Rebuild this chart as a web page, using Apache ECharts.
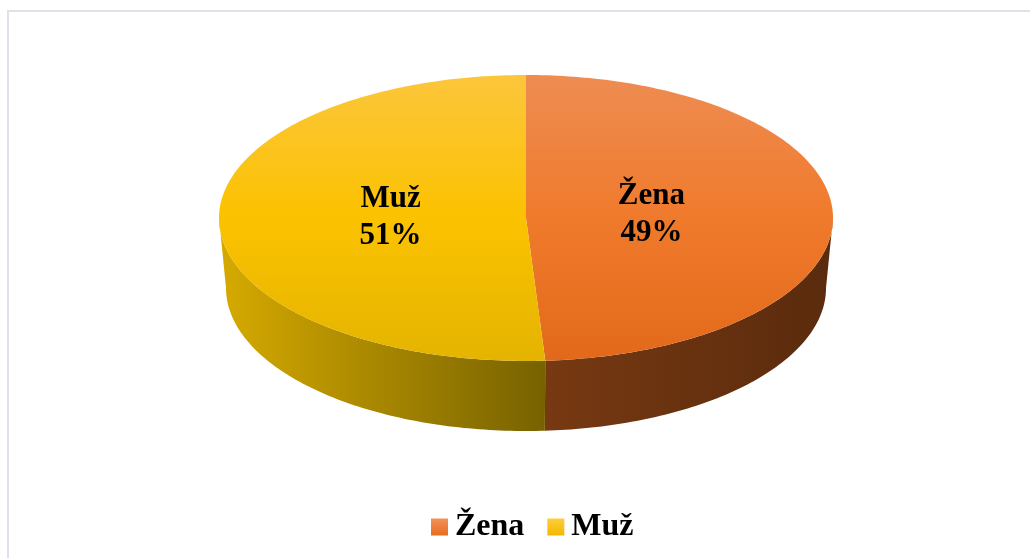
<!DOCTYPE html>
<html>
<head>
<meta charset="utf-8">
<script src="https://cdn.jsdelivr.net/npm/echarts@6/dist/echarts.min.js"></script>
<style>
html, body { margin: 0; padding: 0; background: #fff; }
#chart { width: 1030px; height: 558px; }
</style>
</head>
<body>
<div id="chart"></div>
<script>
const categories = ['Žena', 'Muž'];
const shares = [49, 51];

// top face colours / side colours per slice
const topColors = [['#EE8C52', '#F07A2C', '#E2691A'], ['#FBC63C', '#FBC200', '#E4B400']];
const sideColors = [['#773912', '#5A2B0D'], ['#D6AA00', '#776200']];
const legendColors = [['#F2915A', '#E86C1E'], ['#FFCD3A', '#F2B800']];

// geometry of the drawn disc
const cx = 526, cy = 218, rx = 307, ry = 143;
const bcx = 526, bcy = 288, brx = 300, bry = 143;

const total = shares.reduce((a, b) => a + b, 0);

function pt(x0, y0, ax, ay, deg) {
    const r = deg * Math.PI / 180;
    return [x0 + ax * Math.sin(r), y0 - ay * Math.cos(r)];
}

function grad(x, y, x2, y2, stops) {
    return new echarts.graphic.LinearGradient(x, y, x2, y2, stops.map((c, i) => ({
        offset: i / (stops.length - 1),
        color: c
    })));
}

function renderItem(params, api) {
    const i = params.dataIndex;
    let before = 0;
    for (let k = 0; k < i; k++) before += shares[k];
    const a1 = before / total * 360;
    const a2 = (before + api.value(0)) / total * 360;
    const children = [];

    // front wall (visible between 90 and 270 deg)
    const s1 = Math.max(a1, 90), s2 = Math.min(a2, 270);
    if (s2 > s1) {
        const pts = [];
        for (let d = s1; d <= s2; d += 1) pts.push(pt(cx, cy, rx, ry, d));
        pts.push(pt(cx, cy, rx, ry, s2));
        pts.push(pt(bcx, bcy, brx, bry, s2));
        for (let d = s2; d >= s1; d -= 1) pts.push(pt(bcx, bcy, brx, bry, d));
        pts.push(pt(bcx, bcy, brx, bry, s1));
        const xs = pts.map(p => p[0]);
        const minX = Math.min(...xs), maxX = Math.max(...xs);
        const c = sideColors[i];
        children.push({
            type: 'polygon',
            shape: { points: pts },
            style: {
                fill: new echarts.graphic.LinearGradient(minX, 0, maxX, 0, [
                    { offset: 0, color: c[0] },
                    { offset: 1, color: c[1] }
                ], true)
            }
        });
    }

    // top face
    const top = [[cx, cy]];
    for (let d = a1; d <= a2; d += 1) top.push(pt(cx, cy, rx, ry, d));
    top.push(pt(cx, cy, rx, ry, a2));
    const tc = topColors[i];
    children.push({
        type: 'polygon',
        shape: { points: top },
        style: {
            fill: new echarts.graphic.LinearGradient(0, cy - ry, 0, cy + ry, [
                { offset: 0, color: tc[0] },
                { offset: 0.5, color: tc[1] },
                { offset: 1, color: tc[2] }
            ], true)
        }
    });

    // label
    const mid = (a1 + a2) / 2;
    const lp = pt(cx - 5, cy, rx * 0.425, ry * 0.425, mid);
    children.push({
        type: 'text',
        x: lp[0],
        y: lp[1] - 2,
        style: {
            text: categories[i] + '\n' + api.value(0) + '%',
            fontFamily: 'Liberation Serif',
            fontWeight: 'bold',
            fontSize: 31,
            lineHeight: 37,
            fill: '#000',
            align: 'center',
            verticalAlign: 'middle'
        }
    });

    return { type: 'group', children: children };
}

const chart = echarts.init(document.getElementById('chart'));
chart.setOption({
    animation: false,
    backgroundColor: '#fff',
    graphic: [{
        type: 'rect',
        shape: { x: 8, y: 11, width: 1200, height: 1000 },
        style: { fill: 'none', stroke: '#DEE2EA', lineWidth: 2 },
        silent: true
    }],
    legend: {
        left: 426,
        top: 506,
        icon: 'rect',
        itemWidth: 17,
        itemHeight: 17,
        itemGap: 23,
        data: categories,
        textStyle: {
            fontFamily: 'Liberation Serif',
            fontWeight: 'bold',
            fontSize: 32,
            color: '#000',
            padding: [0, 0, 0, 2]
        }
    },
    series: [{
        type: 'custom',
        coordinateSystem: 'none',
        renderItem: renderItem,
        data: shares.map((v, i) => ({ name: categories[i], value: [v] }))
    }, {
        // carries the legend entries
        type: 'pie',
        radius: [0, 0],
        silent: true,
        label: { show: false },
        labelLine: { show: false },
        data: shares.map((v, i) => ({
            name: categories[i],
            value: v,
            itemStyle: { color: grad(0, 0, 0, 1, legendColors[i]) }
        }))
    }]
});
</script>
</body>
</html>
